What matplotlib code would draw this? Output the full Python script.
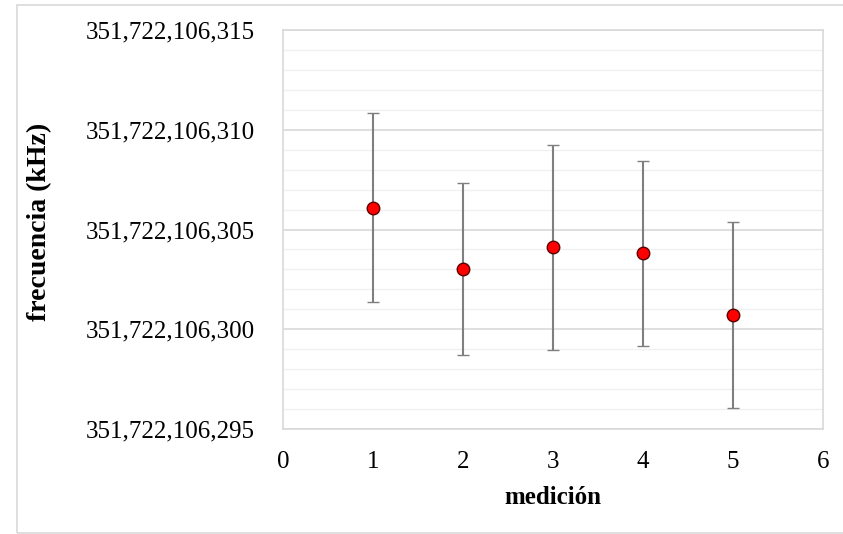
import matplotlib.pyplot as plt
from matplotlib.patches import Rectangle
from matplotlib.ticker import FuncFormatter, MultipleLocator

# medición number, frequency (kHz) and its uncertainty
medicion = [1, 2, 3, 4, 5]
frecuencia = [351722106.3061, 351722106.3030, 351722106.3041, 351722106.3038, 351722106.3007]
incertidumbre = [0.00474, 0.00431, 0.00514, 0.00464, 0.00467]

plt.rcParams["font.family"] = ["Liberation Serif", "DejaVu Serif"]

W, H = 843, 534
fig = plt.figure(figsize=(W / 100, H / 100), dpi=100)
ax = fig.add_axes([283 / W, 1 - 429 / H, (823 - 283) / W, (429 - 30) / H])

# light frame around the whole chart
fig.patches.append(Rectangle((17 / W, 1 - 533 / H), 1.0, (533 - 5) / H,
                             transform=fig.transFigure, fill=False,
                             edgecolor="#d9d9d9", linewidth=1.2))

ax.errorbar(medicion, frecuencia, yerr=incertidumbre, fmt="o",
            color="#7f7f7f", ecolor="#7f7f7f", elinewidth=1.5,
            capsize=4, capthick=1.5,
            markerfacecolor="#ff0000", markeredgecolor="#5a0000",
            markeredgewidth=1.0, markersize=9, zorder=3)

base = 351722106.0
ax.set_xlim(0, 6)
ax.set_ylim(base + 0.295, base + 0.315)
ax.xaxis.set_major_locator(MultipleLocator(1))
ax.yaxis.set_major_locator(MultipleLocator(0.005))
ax.yaxis.set_minor_locator(MultipleLocator(0.001))
ax.yaxis.set_major_formatter(
    FuncFormatter(lambda v, p: f"{v:,.3f}".replace(".", ",")))

ax.grid(axis="y", which="major", color="#d9d9d9", linewidth=1.2, zorder=0)
ax.grid(axis="y", which="minor", color="#f0f0f0", linewidth=1.0, zorder=0)
ax.set_axisbelow(True)

for s in ax.spines.values():
    s.set_color("#d9d9d9")
    s.set_linewidth(1.2)

ax.tick_params(axis="both", which="both", length=0, labelsize=18, colors="black")
ax.tick_params(axis="y", pad=20)
ax.tick_params(axis="x", pad=16)

ax.set_xlabel("medición", fontsize=18, fontweight="bold", labelpad=9)
ax.set_ylabel("frecuencia (kHz)", fontsize=20, fontweight="bold")
ax.yaxis.set_label_coords((52 - 283) / 540, 0.52)

fig.savefig("out.png", dpi=100)
